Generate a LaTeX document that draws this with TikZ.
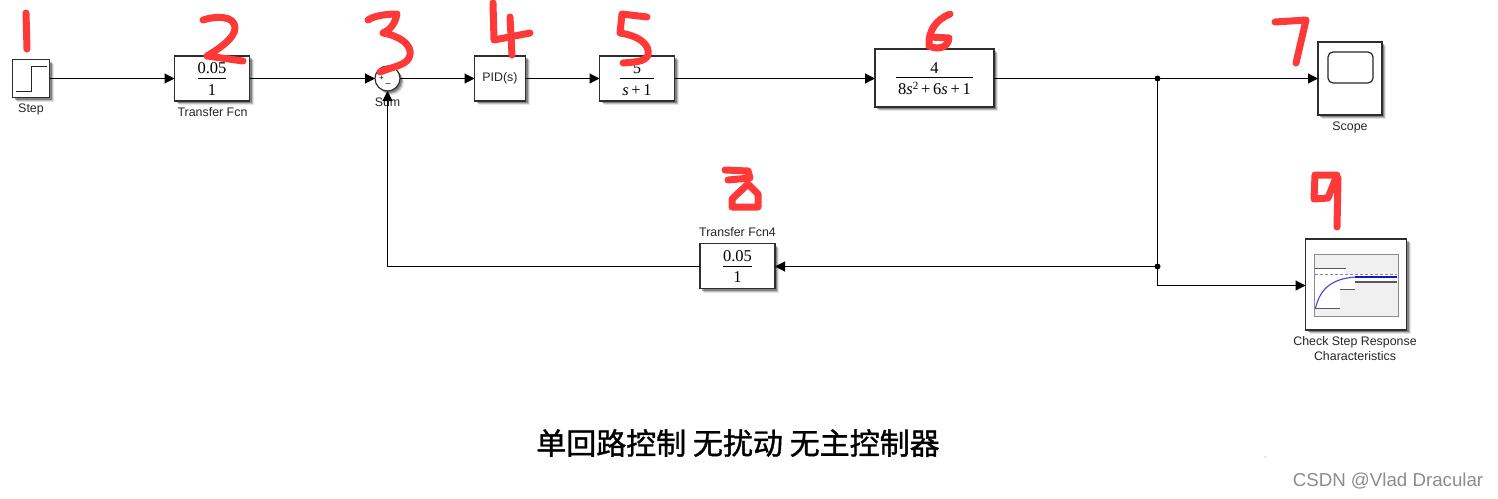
\documentclass[tikz,border=0pt]{standalone}
\usepackage{fontspec}
\setmainfont{Liberation Sans}
\newfontfamily\serifnum{Liberation Serif}
\newfontfamily\cjktitle[FakeBold=1.2]{Noto Sans CJK SC}
\usetikzlibrary{arrows.meta}
\definecolor{marker}{RGB}{255,56,56}
\definecolor{plotblue}{RGB}{20,20,215}
\newcommand{\blockfrac}[2]{{\serifnum\fontsize{16.5}{18}\selectfont\setbox0=\hbox{\kern2pt #2\kern2pt}\setbox2=\hbox{#1}%
  \vbox{\halign{\hfil##\hfil\cr\rule{0pt}{12pt}\box2\cr\noalign{\vskip4pt\hrule height 1pt\vskip4pt}\rule{0pt}{12pt}\box0\cr}}}}
\tikzset{
  x=1pt,y=-1pt,
  softshadow/.style={
    preaction={draw=none,fill=black,opacity=.1,transform canvas={shift={(4pt,-4pt)}}},
    preaction={draw=none,fill=black,opacity=.18,transform canvas={shift={(3pt,-3pt)}}},
    preaction={draw=none,fill=black,opacity=.3,transform canvas={shift={(2pt,-2pt)}}}},
  blk/.style={draw=black!82,line width=1.15pt,fill=white,inner sep=0pt,outer sep=0pt,softshadow},
  lbl/.style={font=\fontsize{12.4}{15}\selectfont,text=black!85,inner sep=0pt,align=center},
  conn/.style={line width=1.1pt,-{Triangle[length=10pt,width=10pt]}},
  wire/.style={line width=1.1pt},
  junct/.style={circle,fill=black,inner sep=0pt,minimum size=6pt},
  digit/.style={draw=marker,line width=7pt,line cap=round,line join=round},
}
\begin{document}
\begin{tikzpicture}
\useasboundingbox (0,0) rectangle (1498,498);
\fill[white] (0,0) rectangle (1498,498);
% blocks
\node[blk,minimum width=37pt,minimum height=38pt] (step) at (31,78.5) {};
\draw[line width=1pt,black!85] (16,91.5) -- (31.5,91.5) -- (31.5,66) -- (47,66);
\node[blk,minimum width=75pt,minimum height=45pt] (tf1) at (212,78.5) {\blockfrac{0.05}{1}};
\node[blk,circle,minimum size=25pt] (sum) at (387.5,78.5) {};
\node[font=\fontsize{8}{8}\selectfont] (plus) at (381.5,78.5) {+};
\node[font=\fontsize{9}{9}\selectfont] (minus) at (388,85) {\textendash};
\node[blk,minimum width=51pt,minimum height=45pt,font=\fontsize{12.4}{14}\selectfont,text=black!85] (pid) at (500,78.5) {PID(s)};
\node[blk,minimum width=75pt,minimum height=45pt] (tf5) at (637,78.5) {\blockfrac{5}{\textit{s}\,+\,1}};
\node[blk,minimum width=119pt,minimum height=58pt] (tf6) at (934.5,78) {\blockfrac{4}{8\textit{s}\raisebox{5pt}{\fontsize{11}{11}\selectfont 2}\,+\,6\textit{s}\,+\,1}};
\node[blk,minimum width=64pt,minimum height=73pt] (scope) at (1350,78.5) {};
\draw[line width=1.2pt,black!85,rounded corners=5pt] (1328,52) rectangle (1373,83);
\node[blk,minimum width=75pt,minimum height=45pt] (tf4) at (737.5,266) {\blockfrac{0.05}{1}};
\node[blk,minimum width=101pt,minimum height=91pt] (check) at (1356,284.5) {};
% check block icon
\draw[draw=black!45,line width=1pt,fill=black!6] (1314,254) rectangle (1398,316);
\fill[white] (1315,268) -- (1346,268) -- (1346,274) -- (1397,274) -- (1397,282) -- (1355,282) -- (1355,289) -- (1340,289) -- (1340,308) -- (1315,308) -- cycle;
\draw[black!65,line width=1pt] (1315,268) -- (1346,268);
\draw[black!45,dash pattern=on 3pt off 2pt,line width=.8pt] (1315,274.5) -- (1397,274.5);
\draw[black!65,line width=1pt] (1315,308.5) -- (1340,308.5);
\draw[black!65,line width=1pt] (1340,289.5) -- (1355,289.5);
\draw[black!65,line width=2pt] (1355,282) -- (1397,282);
\draw[plotblue!80,line width=1.1pt] (1315.5,308) .. controls (1320,290) and (1330,279) .. (1355,277);
\draw[plotblue,line width=2pt] (1355,277) -- (1397,277);
% labels
\node[lbl] (lstep) at (31,109) {Step};
\node[lbl] (ltf1) at (212.5,112.5) {Transfer Fcn};
\node[lbl] (lsum) at (387.5,102) {Sum};
\node[lbl] (lscope) at (1350,127) {Scope};
\node[lbl] (ltf4) at (737.5,232) {Transfer Fcn4};
\node[lbl] (lcheck) at (1355,348.5) {Check Step Response\\Characteristics};
% connectors
\coordinate (j1) at (1157.5,78.5);
\coordinate (j2) at (1157.5,266.5);
\coordinate (j3) at (1157.5,285.5);
\draw[conn] (step.east) -- (tf1.west);
\draw[conn] (tf1.east) -- (sum.west);
\draw[conn] (sum.east) -- (pid.west);
\draw[conn] (pid.east) -- (tf5.west);
\draw[conn] (tf5.east) -- (tf6.west |- tf5.east);
\draw[wire] (tf6.east |- j1) -- (j1);
\draw[conn] (j1) -- (scope.west);
\draw[wire] (j1) -- (j3);
\draw[conn] (j3) -- (check.west |- j3);
\draw[conn] (j2) -- (tf4.east |- j2);
\draw[conn] (tf4.west |- j2) -| (sum.south);
\node[junct] (d1) at (j1) {};
\node[junct] (d2) at (j2) {};
% title and watermark
\node[inner sep=0pt,font=\fontsize{30}{32}\selectfont\cjktitle] (title) at (738,443) {单回路控制 无扰动 无主控制器};
\node[inner sep=0pt,font=\fontsize{18.7}{20}\selectfont,text=black!45] (mark) at (1388,481) {CSDN @Vlad Dracular};
\fill[cyan!20] (1265,457) circle (1.5pt);
% handwritten digits
\draw[digit] (26,13) -- (27,49);
\draw[digit] (203,20) .. controls (215,16) and (235,15) .. (235,28) .. controls (235,38) and (220,48) .. (207,56) -- (243,61);
\draw[digit] (368,20) .. controls (375,15) and (390,14) .. (397,14) .. controls (395,24) and (390,30) .. (383,33) .. controls (400,36) and (412,45) .. (410,55) .. controls (408,65) and (395,66) .. (380,72);
\draw[digit] (493,3) -- (494,40) -- (530,33);
\draw[digit] (510,17) -- (512,55);
\draw[digit] (647,17) -- (622,14) -- (620,33) .. controls (640,36) and (650,45) .. (648,55) .. controls (645,62) and (635,62) .. (623,63);
\draw[digit] (950,14) .. controls (935,20) and (928,32) .. (929,46) .. controls (938,50) and (948,48) .. (949,38) -- (930,37);
\draw[digit] (1275,22) -- (1306,20) -- (1296,63);
\draw[digit] (725,170) -- (748,171) -- (750,178) -- (728,180);
\draw[digit] (748,184) -- (732,199) -- (732,207) -- (758,207) -- (758,194) -- cycle;
\draw[digit] (1315,175) -- (1337,175) -- (1328,198) -- (1314,199) -- cycle;
\draw[digit] (1338,178) -- (1337,227);
\end{tikzpicture}
\end{document}
